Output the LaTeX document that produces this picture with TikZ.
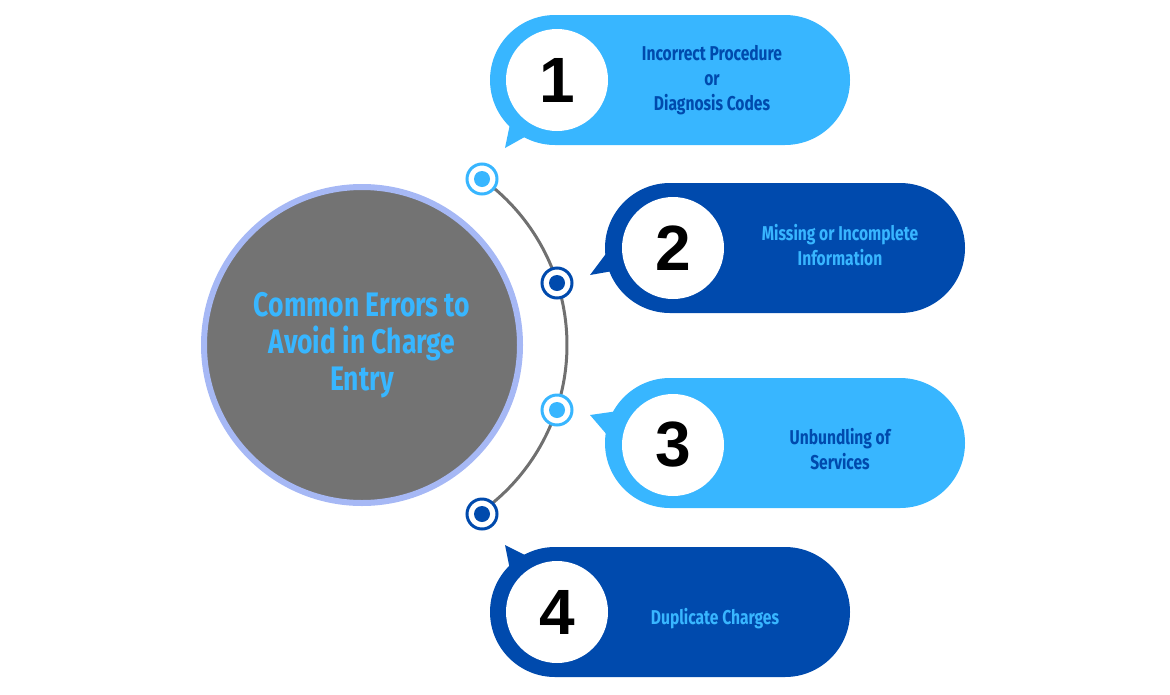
\documentclass[tikz,border=0pt]{standalone}
\usepackage{fontspec}
\setmainfont{Fira Sans}[FakeStretch=0.78,UprightFont=* Bold]
\newfontfamily\numfont{Liberation Sans}[UprightFont=* Bold]
\definecolor{lightblue}{HTML}{38B6FF}
\definecolor{darkblue}{HTML}{004AAD}
\definecolor{hubgray}{HTML}{737373}
\definecolor{hubring}{HTML}{A6B8F5}
\definecolor{arcgray}{HTML}{707070}
\tikzset{
  pill/.style={rounded corners=65pt,minimum width=360pt,minimum height=130pt,inner sep=0pt},
  numdisc/.style={circle,fill=white,minimum size=102pt,inner sep=0pt,font=\numfont\fontsize{64}{64}\selectfont},
  itemtext/.style={align=center,font=\fontsize{20}{25}\selectfont},
  dot/.style={circle,draw=#1,line width=3pt,fill=white,minimum size=30pt,inner sep=0pt,
    path picture={\fill[#1] (path picture bounding box.center) circle (8pt);}}
}
\begin{document}
\begin{tikzpicture}[x=1pt,y=-1pt]
\useasboundingbox (0,0) rectangle (1170,694);
% hub
\node[circle,fill=hubgray,draw=hubring,line width=6pt,minimum size=316pt,inner sep=0pt,
  text=lightblue,align=center,font=\fontsize{34}{37}\selectfont] (hub) at (362,345)
  {Common Errors to\\Avoid in Charge\\Entry};
\draw[arcgray,line width=3pt] (362,345) ++(54.5:205) arc[start angle=54.5,end angle=-54.5,radius=205];
% tails
\fill[lightblue] (505,148) -- (515,100) -- (555,120) -- cycle;
\fill[darkblue] (590,275) -- (620,235) -- (630,268) -- cycle;
\fill[lightblue] (590,415) -- (625,410) -- (620,450) -- cycle;
\fill[darkblue] (505,545) -- (555,570) -- (515,595) -- cycle;
% pills
\node[pill,fill=lightblue] (p1) at (670,80) {};
\node[pill,fill=darkblue] (p2) at (785,248) {};
\node[pill,fill=lightblue] (p3) at (785,443) {};
\node[pill,fill=darkblue] (p4) at (670,612) {};
\node[numdisc] (n1) at (557,80) {1};
\node[numdisc] (n2) at (673,248) {2};
\node[numdisc] (n3) at (673,445) {3};
\node[numdisc] (n4) at (557,612) {4};
\node[itemtext,text=darkblue] (t1) at (712,80) {Incorrect Procedure\\or\\Diagnosis Codes};
\node[itemtext,text=lightblue] (t2) at (840,245) {Missing or Incomplete\\Information};
\node[itemtext,text=darkblue] (t3) at (840,449) {Unbundling of\\Services};
\node[itemtext,text=lightblue] (t4) at (715,619) {Duplicate Charges};
% dots
\node[dot=lightblue] (d1) at (482,179) {};
\node[dot=darkblue] (d2) at (557,283) {};
\node[dot=lightblue] (d3) at (557,410) {};
\node[dot=darkblue] (d4) at (482,514) {};
\end{tikzpicture}
\end{document}
